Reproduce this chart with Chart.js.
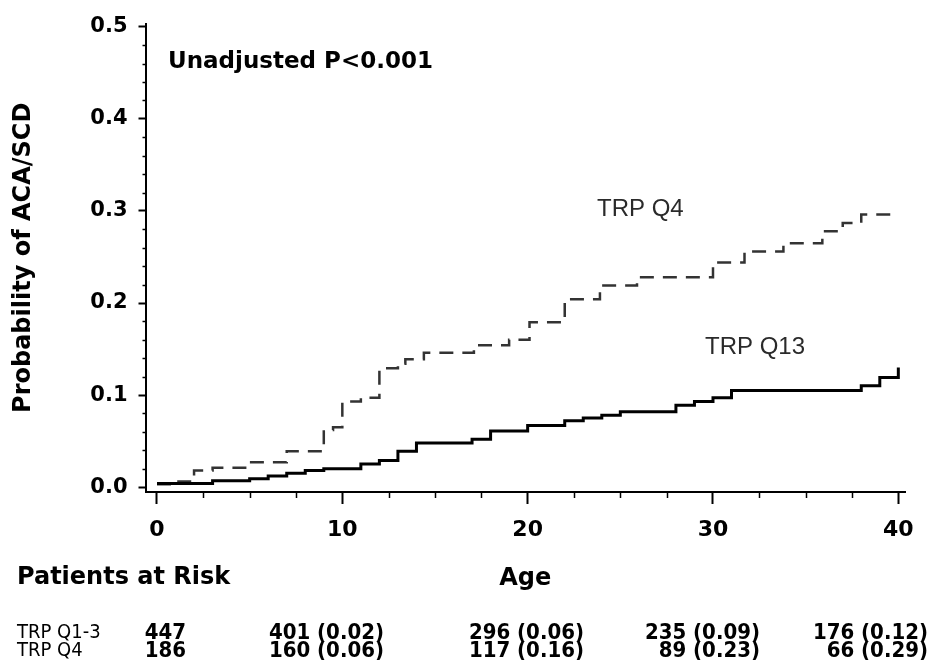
<!DOCTYPE html>
<html>
<head>
<meta charset="utf-8">
<script src="https://cdn.jsdelivr.net/npm/chart.js@4"></script>
<style>
  html, body { margin: 0; padding: 0; background: #fff; }
</style>
</head>
<body>
<canvas id="kmChart" width="934" height="661"></canvas>
<script>
// =====================
// Data
// =====================
const q13Ages  = [0, 3, 5, 6, 7, 8, 9, 11, 12, 13, 14, 17, 18, 20, 22, 23, 24, 25, 28, 29, 30, 31, 38, 39, 40]
const q13Probs = [0.004, 0.007, 0.009, 0.012, 0.015, 0.018, 0.020, 0.025, 0.029, 0.039, 0.048, 0.052, 0.061, 0.067, 0.072, 0.075, 0.078, 0.082, 0.089, 0.093, 0.097, 0.105, 0.110, 0.119, 0.130]

const q4Ages  = [0, 0.8, 2, 3, 5, 7, 9, 9.5, 10, 11, 12, 13, 13.4, 14.4, 17.1, 19, 20.1, 22, 23.9, 25.9, 30, 31.7, 33.8, 35.9, 37, 38, 40]
const q4Probs = [0.003, 0.006, 0.018, 0.021, 0.027, 0.039, 0.062, 0.065, 0.093, 0.097, 0.129, 0.134, 0.139, 0.146, 0.154, 0.160, 0.179, 0.204, 0.219, 0.228, 0.244, 0.256, 0.265, 0.278, 0.287, 0.296, 0.296]

const xTicks = [0, 10, 20, 30, 40]
const yTicks = [0, 0.1, 0.2, 0.3, 0.4, 0.5]

const riskRowLabels = ["TRP Q1-3", "TRP Q4"]
const riskQ13 = ["447", "401 (0.02)", "296 (0.06)", "235 (0.09)", "176 (0.12)"]
const riskQ4  = ["186", "160 (0.06)", "117 (0.16)", "89 (0.23)", "66 (0.29)"]


// =====================
// Plugins
// =====================
const minorTicks = {
  id: "minorTicks",
  afterDraw(chart) {
    const ctx = chart.ctx
    const xs = chart.scales.x
    const ys = chart.scales.y
    ctx.save()
    ctx.strokeStyle = "#000"
    ctx.lineWidth = 1.5
    for (let v = 2.5; v < 40; v += 2.5) {
      if (v % 10 === 0) continue
      const px = Math.round(xs.getPixelForValue(v)) + 0.5
      ctx.beginPath()
      ctx.moveTo(px, xs.top)
      ctx.lineTo(px, xs.top + 6)
      ctx.stroke()
    }
    for (let i = 1; i < 25; i++) {
      if (i % 5 === 0) continue
      const py = Math.round(ys.getPixelForValue(i * 0.02)) + 0.5
      ctx.beginPath()
      ctx.moveTo(ys.right, py)
      ctx.lineTo(ys.right - 3, py)
      ctx.stroke()
    }
    ctx.restore()
  }
}

const labelsAndTable = {
  id: "labelsAndTable",
  afterDraw(chart) {
    const ctx = chart.ctx
    ctx.save()
    ctx.textBaseline = "middle"

    ctx.fillStyle = "#000"
    ctx.textAlign = "left"
    ctx.font = "bold 23px 'DejaVu Sans'"
    ctx.fillText("Unadjusted P<0.001", 168, 62)

    ctx.fillStyle = "#2a2a2a"
    ctx.font = "24px 'Liberation Sans'"
    ctx.fillText("TRP Q4", 597, 209)
    ctx.fillText("TRP Q13", 705, 347)

    ctx.fillStyle = "#000"
    ctx.font = "bold 24px 'DejaVu Sans'"
    ctx.fillText("Patients at Risk", 17, 578)

    // risk table
    const rights = [186, 384, 584, 760, 928]
    const rowsY = [633, 651]
    ;[riskQ13, riskQ4].forEach((row, r) => {
      ctx.textAlign = "left"
      ctx.font = "20px 'DejaVu Sans Condensed', 'DejaVu Sans'"
      ctx.fillText(riskRowLabels[r], 17, rowsY[r])
      ctx.textAlign = "right"
      ctx.font = "bold 22px 'DejaVu Sans Condensed', 'DejaVu Sans'"
      row.forEach((txt, i) => ctx.fillText(txt, rights[i], rowsY[r]))
    })
    ctx.restore()
  }
}


// =====================
// Build chart
// =====================
const boldFont = size => ({ family: "DejaVu Sans", weight: "bold", size: size })

new Chart(document.getElementById("kmChart"), {
  type: "line",
  data: {
    datasets: [
      {
        label: "TRP Q1-3",
        data: q13Ages.map((a, i) => ({ x: a, y: q13Probs[i] })),
        stepped: true,
        borderColor: "#000",
        borderWidth: 3,
        pointRadius: 0,
        fill: false
      },
      {
        label: "TRP Q4",
        data: q4Ages.map((a, i) => ({ x: a, y: q4Probs[i] })),
        stepped: true,
        borderColor: "#333",
        borderWidth: 2.5,
        borderDash: [14, 9],
        pointRadius: 0,
        fill: false
      }
    ]
  },
  options: {
    responsive: false,
    animation: false,
    layout: { padding: { top: 15, right: 29, bottom: 0, left: 0 } },
    plugins: {
      legend: { display: false },
      tooltip: { enabled: false }
    },
    scales: {
      x: {
        type: "linear",
        min: -0.62,
        max: 40.36,
        afterBuildTicks: s => { s.ticks = xTicks.map(v => ({ value: v })) },
        afterFit: s => { s.height = 169 },
        border: { display: true, color: "#000", width: 2 },
        grid: { drawOnChartArea: false, tickLength: 12, tickColor: "#000", tickWidth: 2 },
        ticks: { color: "#000", font: boldFont(22), padding: 13, maxRotation: 0, callback: v => v },
        title: { display: true, text: "Age", color: "#000", font: boldFont(24), padding: { top: 0, bottom: 68 } }
      },
      y: {
        type: "linear",
        min: -0.0053,
        max: 0.5035,
        afterBuildTicks: s => { s.ticks = yTicks.map(v => ({ value: v })) },
        afterFit: s => { s.width = 145.5 },
        border: { display: true, color: "#000", width: 2 },
        grid: { drawOnChartArea: false, tickLength: 7, tickColor: "#000", tickWidth: 2 },
        ticks: { color: "#000", font: boldFont(21), padding: 11, callback: v => v.toFixed(1) },
        title: { display: true, text: "Probability of ACA/SCD", color: "#000", font: boldFont(24), padding: 9 }
      }
    }
  },
  plugins: [minorTicks, labelsAndTable]
})
</script>
</body>
</html>
